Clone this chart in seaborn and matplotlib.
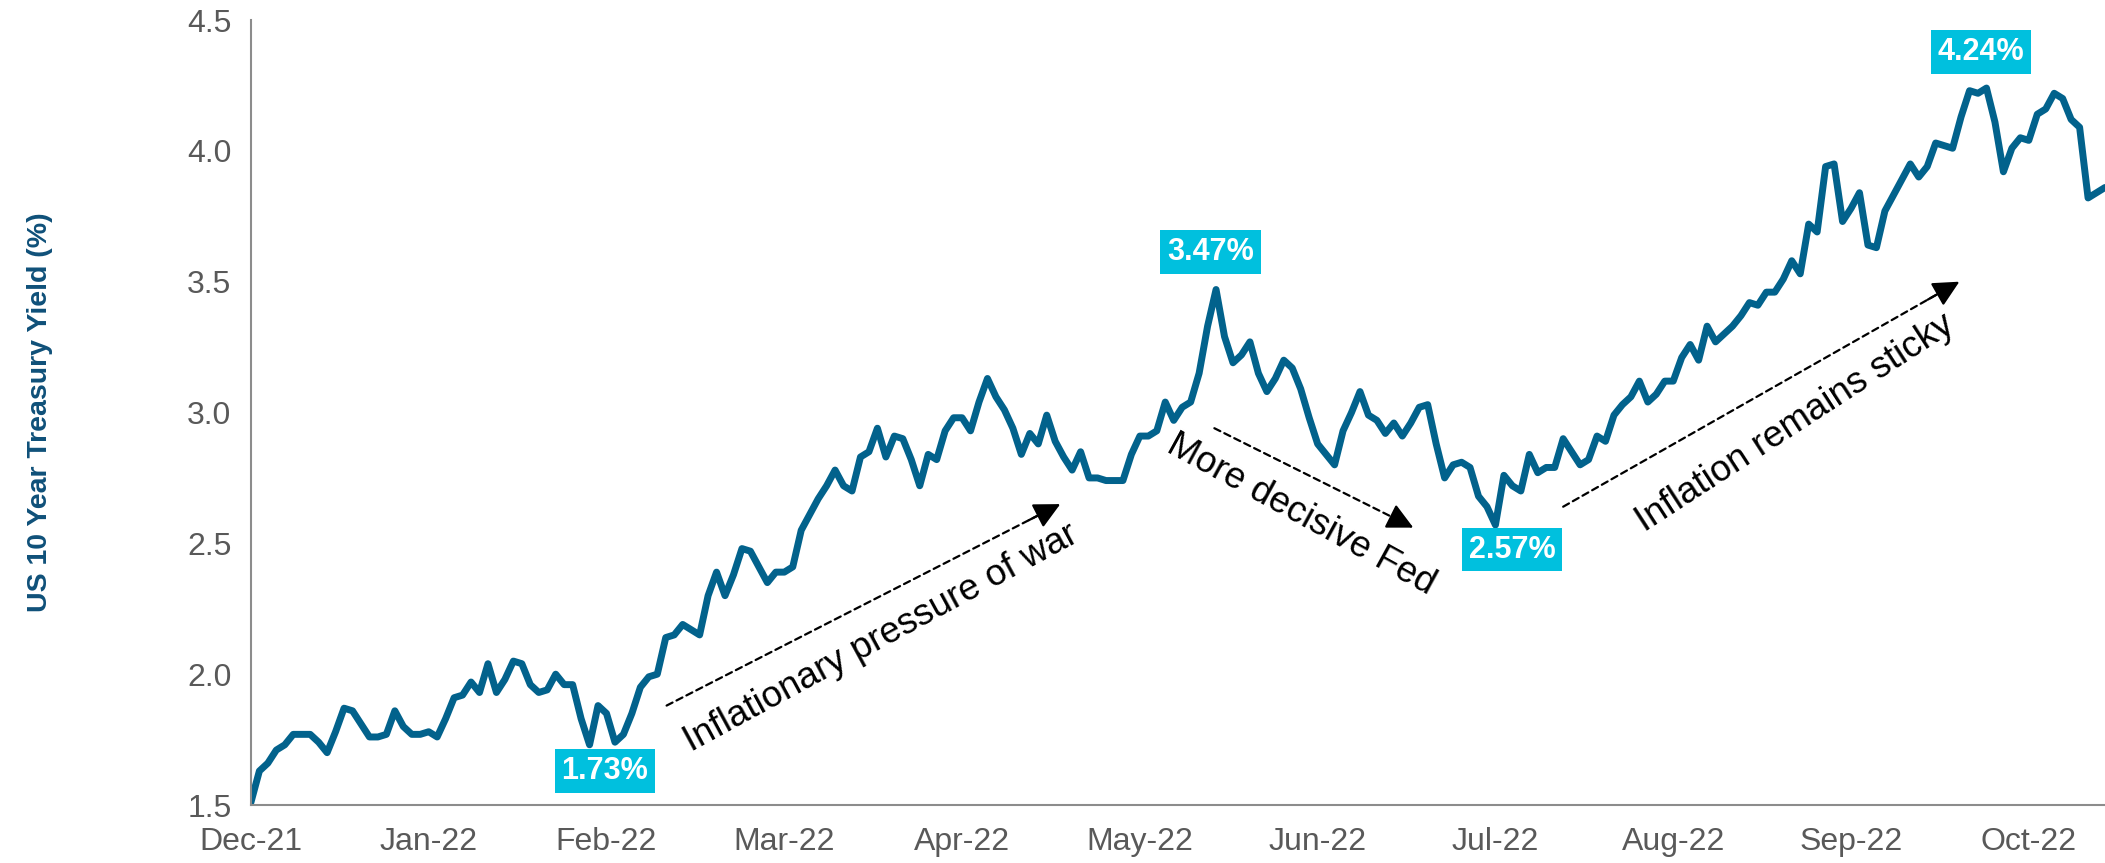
import numpy as np
import pandas as pd
import seaborn as sns
import matplotlib.pyplot as plt

# US 10Y yield, one value per trading day (Dec-21 .. mid Nov-22)
dec21 = [1.51]
jan22 = [1.63, 1.66, 1.71, 1.73, 1.77, 1.77, 1.77, 1.74, 1.70, 1.78,
         1.87, 1.86, 1.81, 1.76, 1.76, 1.77, 1.86, 1.80, 1.77, 1.77]
feb22 = [1.78, 1.76, 1.83, 1.91, 1.92, 1.97, 1.93, 2.04, 1.93, 1.98,
         2.05, 2.04, 1.96, 1.93, 1.94, 2.00, 1.96, 1.96, 1.83]
mar22 = [1.73, 1.88, 1.85, 1.74, 1.77, 1.85, 1.95, 1.99, 2.00, 2.14,
         2.15, 2.19, 2.17, 2.15, 2.30, 2.39, 2.30, 2.38, 2.48, 2.47,
         2.41, 2.35, 2.39]
apr22 = [2.39, 2.41, 2.55, 2.61, 2.67, 2.72, 2.78, 2.72, 2.70, 2.83,
         2.85, 2.94, 2.83, 2.91, 2.90, 2.82, 2.72, 2.84, 2.82, 2.93]
may22 = [2.98, 2.98, 2.93, 3.04, 3.13, 3.06, 3.01, 2.94, 2.84, 2.92,
         2.88, 2.99, 2.89, 2.83, 2.78, 2.85, 2.75, 2.75, 2.74, 2.74,
         2.74, 2.84]
jun22 = [2.91, 2.91, 2.93, 3.04, 2.97, 3.02, 3.04, 3.15, 3.33, 3.47,
         3.29, 3.19, 3.22, 3.27, 3.15, 3.08, 3.13, 3.20, 3.17, 3.09,
         2.98]
jul22 = [2.88, 2.84, 2.80, 2.93, 3.00, 3.08, 2.99, 2.97, 2.92, 2.96,
         2.91, 2.96, 3.02, 3.03, 2.88, 2.75, 2.80, 2.81, 2.79, 2.68,
         2.64]
aug22 = [2.57, 2.76, 2.72, 2.70, 2.84, 2.77, 2.79, 2.79, 2.90, 2.85,
         2.80, 2.82, 2.91, 2.89, 2.99, 3.03, 3.06, 3.12, 3.04, 3.07,
         3.12, 3.12, 3.21]
sep22 = [3.26, 3.20, 3.33, 3.27, 3.30, 3.33, 3.37, 3.42, 3.41, 3.46,
         3.46, 3.51, 3.58, 3.53, 3.72, 3.69, 3.94, 3.95, 3.73, 3.78,
         3.84]
oct22 = [3.64, 3.63, 3.77, 3.83, 3.89, 3.95, 3.90, 3.94, 4.03, 4.02,
         4.01, 4.13, 4.23, 4.22, 4.24, 4.11, 3.92, 4.01, 4.05]
nov22 = [4.04, 4.14, 4.16, 4.22, 4.20, 4.12, 4.09, 3.82, 3.84, 3.86]

yields = dec21 + jan22 + feb22 + mar22 + apr22 + may22 + jun22 + jul22 + aug22 + sep22 + oct22 + nov22

month_labels = ["Dec-21", "Jan-22", "Feb-22", "Mar-22", "Apr-22", "May-22",
                "Jun-22", "Jul-22", "Aug-22", "Sep-22", "Oct-22"]
label_step = 21

# highlighted points: (label, day index)
callouts = [("1.73%", 40), ("3.47%", 114), ("2.57%", 146), ("4.24%", 205)]
callout_offsets = [(11, -19), (-4, 27), (18, -31), (-4, 26)]

sns.set_theme(style="white")
plt.rcParams["font.family"] = ["Liberation Sans", "DejaVu Sans"]

df = pd.DataFrame({"day": np.arange(len(yields)), "yield": yields})

fig = plt.figure(figsize=(21.05, 8.63), dpi=100)
ax = fig.add_axes([0.1192, 0.0672, 0.8808, 0.9096])

sns.lineplot(data=df, x="day", y="yield", color="#02628C", linewidth=5.0,
             solid_joinstyle="round", ax=ax)

ax.set_xlim(0, len(yields) - 1)
ax.set_ylim(1.5, 4.5)
ax.set_yticks(np.arange(1.5, 4.51, 0.5))
ax.set_yticklabels([f"{v:.1f}" for v in np.arange(1.5, 4.51, 0.5)])
ax.set_xticks(np.arange(len(month_labels)) * label_step)
ax.set_xticklabels(month_labels)
ax.tick_params(axis="both", length=0, labelsize=23, labelcolor="#595959")
ax.tick_params(axis="x", pad=16)
ax.tick_params(axis="y", pad=14)
ax.set_xlabel("")
ax.set_ylabel("US 10 Year Treasury Yield (%)", fontsize=20.5, fontweight="bold",
              color="#0F5079")
ax.yaxis.set_label_coords(-0.107, 0.5)

for side in ["top", "right"]:
    ax.spines[side].set_visible(False)
for side in ["left", "bottom"]:
    ax.spines[side].set_color("#8c8c8c")
    ax.spines[side].set_linewidth(1.5)

for (txt, i), off in zip(callouts, callout_offsets):
    ax.annotate(txt, xy=(i, yields[i]), xytext=off, textcoords="offset points",
                ha="center", va="center", fontsize=22, fontweight="bold", color="white",
                bbox=dict(boxstyle="square,pad=0.22", fc="#00C0DE", ec="none"))

# trend notes
notes = [("Inflationary pressure of war", 74.5, 2.14, 28.5),
         ("More decisive Fed", 124.1, 2.61, -28.7),
         ("Inflation remains sticky", 182.4, 2.96, 33.0)]
for txt, x, y, rot in notes:
    ax.text(x, y, txt, rotation=rot, rotation_mode="anchor", ha="center", va="center",
            fontsize=26.5, color="black")

arrows = [((49.1, 1.88), (95.6, 2.65)),
          ((113.8, 2.94), (137.3, 2.56)),
          ((155.0, 2.64), (201.8, 3.50))]
for (x0, y0), (x1, y1) in arrows:
    ax.annotate("", xy=(x1, y1), xytext=(x0, y0),
                arrowprops=dict(arrowstyle="-", linestyle=(0, (3, 2)), lw=1.6,
                                color="black", shrinkA=0, shrinkB=8))
    hx, hy = x1 - 0.08 * (x1 - x0), y1 - 0.08 * (y1 - y0)
    ax.annotate("", xy=(x1, y1), xytext=(hx, hy),
                arrowprops=dict(arrowstyle="-|>,head_length=0.8,head_width=0.4",
                                lw=1.6, color="black", shrinkA=0, shrinkB=0,
                                mutation_scale=20))

fig.savefig("out.png", dpi=100)
